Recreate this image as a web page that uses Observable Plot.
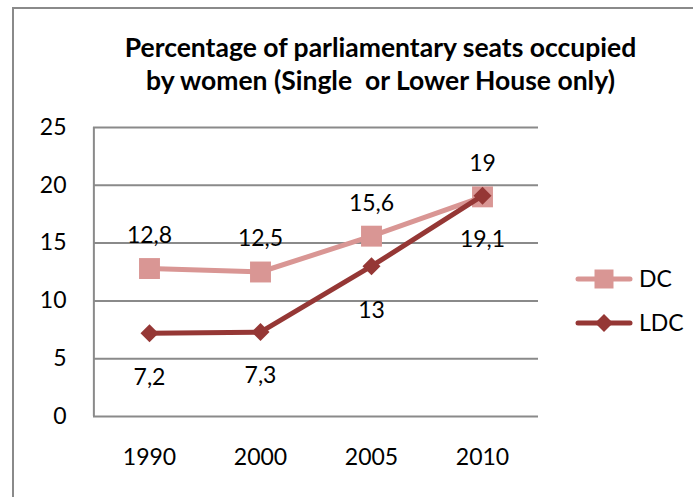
<!DOCTYPE html>
<html>
<head>
<meta charset="utf-8">
<script src="https://cdn.jsdelivr.net/npm/d3@7"></script>
<script src="https://cdn.jsdelivr.net/npm/@observablehq/plot@0.6"></script>
<style>
  html, body { margin: 0; padding: 0; background: #fff; overflow: hidden; }
  #wrap { position: relative; width: 693px; height: 497px; overflow: hidden; }
  #border { position: absolute; left: 12px; top: 7px; width: 900px; height: 900px;
            border-left: 2px solid #8a8a8a; border-top: 2px solid #8a8a8a; }
  #chart { position: absolute; left: 0; top: 0; }
</style>
</head>
<body>
<div id="wrap"><div id="border"></div><div id="chart"></div></div>
<script>
const titleLines = ["Percentage of parliamentary seats occupied", "by women (Single  or Lower House only)"];
const years = ["1990", "2000", "2005", "2010"];
const seriesNames = ["DC", "LDC"];
const dcValues = [12.8, 12.5, 15.6, 19];
const ldcValues = [7.2, 7.3, 13, 19.1];
const yTicks = [0, 5, 10, 15, 20, 25];
const colors = ["#d99694", "#953735"];

const data = [];
years.forEach((y, i) => data.push({year: y, series: "DC", value: dcValues[i]}));
years.forEach((y, i) => data.push({year: y, series: "LDC", value: ldcValues[i]}));
const dc = data.filter(d => d.series === "DC");
const ldc = data.filter(d => d.series === "LDC");
const fmt = v => String(v).replace(".", ",");
const font = "Lato, 'Open Sans', sans-serif";
const fs = 23;

const plot = Plot.plot({
  width: 693,
  height: 497,
  marginTop: 127,
  marginLeft: 93,
  marginRight: 155,
  marginBottom: 81,
  style: {fontFamily: font, fontSize: fs + "px", color: "#000", background: "transparent"},
  x: {domain: years, type: "point", padding: 0.5, label: null},
  y: {domain: [0, 25], label: null},
  color: {domain: seriesNames, range: colors},
  marks: [
    Plot.gridY(yTicks, {stroke: "#8a8a8a", strokeOpacity: 1, strokeWidth: 2}),
    Plot.ruleX([0], {x: () => years[0], stroke: "#8a8a8a", strokeWidth: 2, dx: -111.25 / 2, y1: 0, y2: 25}),
    Plot.axisY(yTicks, {tickSize: 0, tickPadding: 27, fontSize: fs, label: null}),
    Plot.axisX(years, {tickSize: 0, tickPadding: 32, fontSize: fs, label: null}),
    Plot.line(dc, {x: "year", y: "value", stroke: colors[0], strokeWidth: 5}),
    Plot.dot(dc, {x: "year", y: "value", symbol: "square", r: 11.8, fill: colors[0], stroke: "none"}),
    Plot.line(ldc, {x: "year", y: "value", stroke: colors[1], strokeWidth: 5}),
    Plot.dot(ldc, {x: "year", y: "value", symbol: "diamond2", r: 8.1, fill: colors[1], stroke: "none"}),
    Plot.text(dc, {x: "year", y: "value", text: d => fmt(d.value), dy: -33, fontSize: fs, fill: "#000"}),
    Plot.text(ldc, {x: "year", y: "value", text: d => fmt(d.value), dy: 44, fontSize: fs, fill: "#000"}),
    Plot.text([titleLines[0]], {frameAnchor: "top-left", lineAnchor: "middle", dx: 287, dy: -79, text: d => d, fontSize: 26.5, fontWeight: "bold", textAnchor: "middle", fill: "#000"}),
    Plot.text([titleLines[1]], {frameAnchor: "top-left", lineAnchor: "middle", dx: 287, dy: -46, text: d => d, fontSize: 26.5, fontWeight: "bold", textAnchor: "middle", fill: "#000"})
  ]
});

// Legend
const svg = d3.select(plot);
const leg = svg.append("g").attr("font-family", font).attr("font-size", fs).attr("text-anchor", "start");
seriesNames.forEach((name, i) => {
  const cy = 279 + i * 44;
  const g = leg.append("g").attr("transform", `translate(0,${cy})`);
  g.append("line").attr("x1", 578).attr("x2", 630).attr("y1", 0).attr("y2", 0)
    .attr("stroke", colors[i]).attr("stroke-width", 5).attr("stroke-linecap", "round");
  const sym = i === 0 ? d3.symbolSquare : d3.symbolDiamond2;
  const size = i === 0 ? 19 * 19 : 206;
  g.append("path").attr("d", d3.symbol(sym, size)()).attr("transform", "translate(604,0)").attr("fill", colors[i]);
  g.append("text").attr("x", 639).attr("y", 0).attr("dy", "0.35em").attr("fill", "#000").text(name);
});

document.getElementById("chart").appendChild(plot);
</script>
</body>
</html>
